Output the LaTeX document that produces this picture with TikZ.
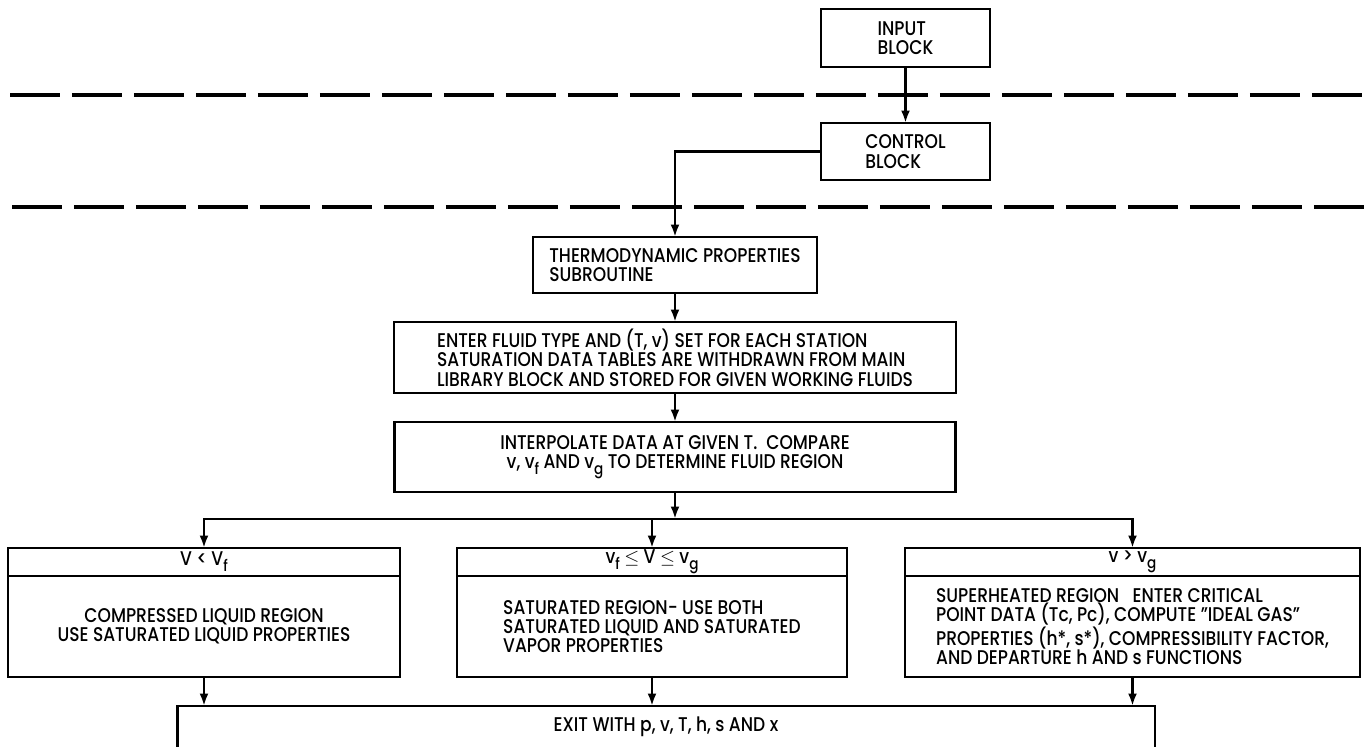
\documentclass[tikz,border=0pt]{standalone}
\usepackage{fontspec}
\setmainfont{Poppins Medium}[FakeStretch=0.86]
\usetikzlibrary{arrows.meta,positioning}

\newcommand{\lo}[1]{\raisebox{-0.55ex}{\small #1}}

\begin{document}
\begin{tikzpicture}[x=0.02cm,y=-0.02cm,
    box/.style={draw,line width=1.6pt,inner sep=0pt,outer sep=0pt,align=left,font=\fontsize{11.3}{11}\selectfont},
    flow/.style={line width=1.6pt,-{Latex[length=2.5mm,width=1.8mm]}},
    sep/.style={line width=1.8pt,dash pattern=on 1cm off 0.24cm}]
    \useasboundingbox (0,0) rectangle (1370,747);
    \clip (0,0) rectangle (1370,747);

    % Top blocks
    \node[box,minimum width=3.38cm,minimum height=1.16cm] (input) at (905.5,38) {INPUT\\BLOCK};
    \node[box,minimum width=3.38cm,minimum height=1.14cm] (control) at (905.5,151.5) {CONTROL\\BLOCK};

    % Separating lines
    \draw[sep] (10,95) -- (1370,95);
    \draw[sep] (12,207) -- (1370,207);

    % Subroutine column
    \node[box,minimum width=5.68cm,minimum height=1.12cm] (thermo) at (675,265) {THERMODYNAMIC PROPERTIES\\SUBROUTINE};
    \node[box,minimum width=11.24cm,minimum height=1.42cm] (enter) at (675,357.5)
        {ENTER FLUID TYPE AND (T, v) SET FOR EACH STATION\\
         SATURATION DATA TABLES ARE WITHDRAWN FROM MAIN\\
         LIBRARY BLOCK AND STORED FOR GIVEN WORKING FLUIDS};
    \node[box,align=center,minimum width=11.22cm,minimum height=1.4cm] (interp) at (675,457)
        {INTERPOLATE DATA AT GIVEN T.\ \ COMPARE\\
         v, v\lo{f} AND v\lo{g} TO DETERMINE FLUID REGION};

    % Fluid regions
    \node[box,align=center,minimum width=7.84cm,minimum height=0.56cm] (lefthead) at (204,562) {V < V\lo{f}};
    \node[box,align=center,minimum width=7.84cm,minimum height=2.02cm,below=0pt of lefthead] (leftbody)
        {COMPRESSED LIQUID REGION\\USE SATURATED LIQUID PROPERTIES};
    \node[box,align=center,minimum width=7.8cm,minimum height=0.56cm] (midhead) at (652,562) {v\lo{f} $\leq$ V $\leq$ v\lo{g}};
    \node[box,minimum width=7.8cm,minimum height=2.02cm,below=0pt of midhead] (midbody)
        {SATURATED REGION- USE BOTH\\SATURATED LIQUID AND SATURATED\\VAPOR PROPERTIES};
    \node[box,align=center,minimum width=9.1cm,minimum height=0.56cm] (righthead) at (1132.5,562) {v > v\lo{g}};
    \node[box,minimum width=9.1cm,minimum height=2.02cm,below=0pt of righthead] (rightbody)
        {SUPERHEATED REGION\ \ \ ENTER CRITICAL\\
         POINT DATA (Tc, Pc), COMPUTE "IDEAL GAS"\\
         PROPERTIES (h*, s*), COMPRESSIBILITY FACTOR,\\
         AND DEPARTURE h AND s FUNCTIONS};

    % Exit block
    \node[box,minimum width=19.56cm,minimum height=1.6cm,anchor=north] (exit) at (666,706) {};
    \node[font=\fontsize{11.3}{11}\selectfont] at ([yshift=-0.42cm]exit.north) {EXIT WITH p, v, T, h, s AND x};

    % Connect blocks
    \draw[flow] (input) -- (control);
    \draw[flow] (control.west) -| (thermo.north);
    \draw[flow] (thermo) -- (enter);
    \draw[flow] (enter) -- (interp);
    \coordinate (split) at (675,519);
    \draw[flow] (interp) -- (split);
    \draw[flow] (split) -| (lefthead);
    \draw[flow] (split) -| (righthead);
    \draw[flow] (split -| midhead) -- (midhead);
    \foreach \r in {leftbody,midbody,rightbody}
        \draw[flow] (\r) -- (\r.south |- exit.north);
\end{tikzpicture}
\end{document}
